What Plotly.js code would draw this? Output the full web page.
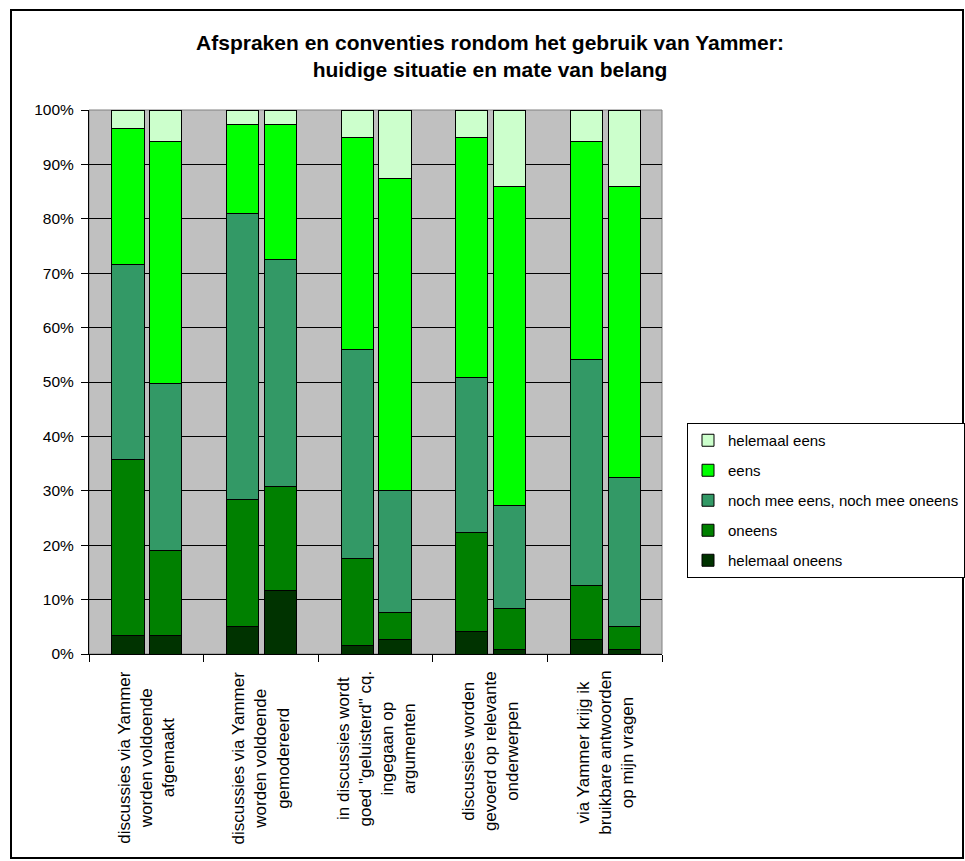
<!DOCTYPE html>
<html>
<head>
<meta charset="utf-8">
<script src="https://cdn.plot.ly/plotly-3.0.1.min.js"></script>
<style>
  html, body { margin: 0; padding: 0; background: #ffffff; }
  #chart { width: 965px; height: 861px; }
</style>
</head>
<body>
<div id="chart"></div>
<script>
// ---- data (percentages) ----
const categories = [
  "discussies via Yammer<br>worden voldoende<br>afgemaakt",
  "discussies via Yammer<br>worden voldoende<br>gemodereerd",
  "in discussies wordt<br>goed \"geluisterd\" cq.<br>ingegaan op<br>argumenten",
  "discussies worden<br>gevoerd op relevante<br>onderwerpen",
  "via Yammer krijg ik<br>bruikbare antwoorden<br>op mijn vragen"
];
// two bars per category: huidige situatie, mate van belang
const barsPerCategory = 2;
const seriesNames = ["helemaal oneens", "oneens", "noch mee eens, noch mee oneens", "eens", "helemaal eens"];
const helemaalOneens = [3.4, 3.4, 5.0, 11.7, 1.5, 2.6, 4.2, 0.8, 2.6, 0.8];
const oneens         = [32.3, 15.6, 23.4, 19.1, 16.0, 5.0, 18.2, 7.5, 10.0, 4.2];
const nochNoch       = [35.9, 30.8, 52.5, 41.8, 38.4, 22.5, 28.5, 19.0, 41.5, 27.4];
const eens           = [25.0, 44.4, 16.5, 24.8, 39.1, 57.3, 44.1, 58.6, 40.1, 53.5];
const helemaalEens   = [3.4, 5.8, 2.6, 2.6, 5.0, 12.6, 5.0, 14.1, 5.8, 14.1];
const yTickValues = [0, 10, 20, 30, 40, 50, 60, 70, 80, 90, 100];

// ---- styling ----
const seriesValues = [helemaalOneens, oneens, nochNoch, eens, helemaalEens];
const seriesColors = ["#003300", "#008000", "#339966", "#00FF00", "#CCFFCC"];
const FONT = "Liberation Sans, Arial, sans-serif";
const barOffsets = [0.34, 0.67];
const barWidth = 0.28;

const xPositions = [];
for (let c = 0; c < categories.length; c++) {
  for (let b = 0; b < barsPerCategory; b++) xPositions.push(c + barOffsets[b]);
}

const traces = seriesValues.map((vals, i) => ({
  type: "bar",
  name: seriesNames[i],
  x: xPositions,
  y: vals,
  width: barWidth,
  marker: { color: seriesColors[i], line: { color: "#000000", width: 1 } },
  legendgroup: "g" + i,
  legendrank: seriesValues.length - i,
  hoverinfo: "skip"
}));

const annotations = categories.map((txt, c) => ({
  text: txt,
  x: c + 0.5, xref: "x",
  y: 0, yref: "y",
  xanchor: "center", yanchor: "top",
  yshift: -15,
  textangle: -90,
  align: "center",
  showarrow: false,
  font: { family: FONT, size: 17, color: "#000000" }
}));

// plot area in pixels: x 89..662, y 110..654
const L = 89, R = 662, T = 110, B = 654, W = 965, H = 861;
const px2x = p => (p - L) / (R - L);
const px2y = p => (B - p) / (B - T);

const layout = {
  width: W, height: H,
  margin: { l: L, r: W - R, t: T, b: H - B, pad: 0, autoexpand: false },
  paper_bgcolor: "#ffffff",
  plot_bgcolor: "#C0C0C0",
  barmode: "stack",
  bargap: 0,
  showlegend: true,
  hovermode: false,
  title: {
    text: "Afspraken en conventies rondom het gebruik van Yammer:<br>huidige situatie en mate van belang",
    font: { family: FONT, size: 21, color: "#000000", weight: "bold" },
    x: 490 / W, xref: "container", xanchor: "center",
    y: 1 - 50 / H, yref: "container", yanchor: "top"
  },
  xaxis: {
    range: [0, categories.length],
    tickmode: "array",
    tickvals: [0, 1, 2, 3, 4, 5],
    showticklabels: false,
    ticks: "outside", ticklen: 7, tickwidth: 1, tickcolor: "#000000",
    showgrid: false, zeroline: false,
    showline: true, linecolor: "#000000", linewidth: 1,
    fixedrange: true
  },
  yaxis: {
    range: [0, 100],
    tickmode: "array",
    tickvals: yTickValues,
    ticktext: yTickValues.map(v => v + "%"),
    ticks: "outside", ticklen: 7, tickwidth: 1, tickcolor: "#000000",
    ticklabelstandoff: 4,
    tickfont: { family: FONT, size: 15.5, color: "#000000" },
    showgrid: false, zeroline: false,
    showline: true, linecolor: "#000000", linewidth: 1,
    minor: {
      tickmode: "array",
      tickvals: yTickValues.slice(1, -1),
      ticks: "",
      showgrid: true, gridcolor: "#000000", gridwidth: 1
    },
    fixedrange: true
  },
  legend: {
    x: px2x(687), xanchor: "left",
    y: px2y(423), yanchor: "top",
    bgcolor: "#ffffff",
    bordercolor: "#000000", borderwidth: 1,
    font: { family: FONT, size: 15, color: "#000000" },
    traceorder: "grouped",
    tracegroupgap: 7.5
  },
  shapes: [
    { type: "rect", xref: "paper", yref: "paper", x0: 0, x1: 1, y0: 0, y1: 1,
      line: { color: "#808080", width: 1 }, layer: "below" },
    { type: "rect", xref: "paper", yref: "paper",
      x0: px2x(11), x1: px2x(963), y0: px2y(858), y1: px2y(10),
      line: { color: "#000000", width: 2 }, layer: "above" }
  ],
  annotations: annotations
};

Plotly.newPlot("chart", traces, layout, { displayModeBar: false, staticPlot: true });
</script>
</body>
</html>
